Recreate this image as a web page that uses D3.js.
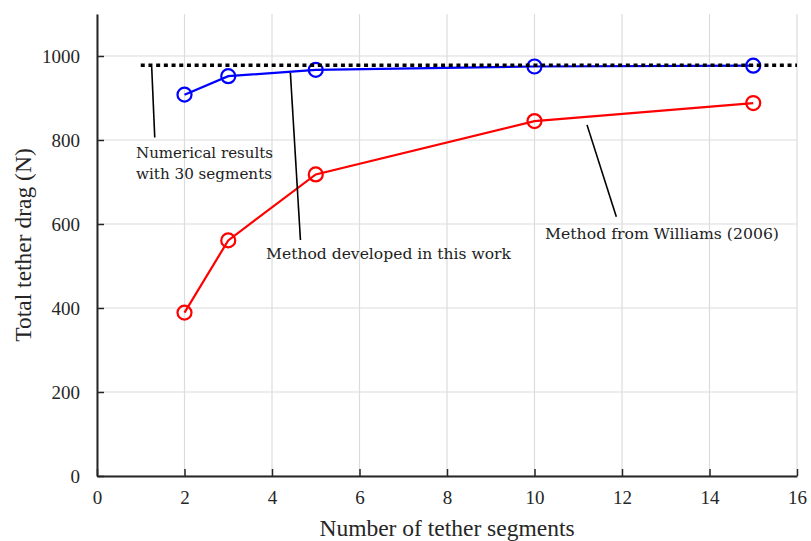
<!DOCTYPE html>
<html><head><meta charset="utf-8">
<script src="https://cdn.jsdelivr.net/npm/d3@7"></script>
<style>body{margin:0;background:#fff}svg{display:block}</style>
</head><body>
<script>
const segments = [2, 3, 5, 10, 15];
const thisWork = [908, 952, 967, 975, 977];
const williams = [389, 561, 718, 845, 888];
const numericalRef = 978;
const numericalRange = [1, 16];
const xTicks = [0, 2, 4, 6, 8, 10, 12, 14, 16];
const yTicks = [0, 200, 400, 600, 800, 1000];
const annotations = [
  {lines: ["Numerical results", "with 30 segments"], widths: [137, 136], from: [1.25, 974], to: [1.32, 806], text: [136, 158], lh: 21},
  {lines: ["Method developed in this work"], widths: [245], from: [4.42, 960], to: [4.65, 562], text: [266, 259], lh: 21},
  {lines: ["Method from Williams (2006)"], widths: [234], from: [11.2, 836], to: [11.87, 617], text: [545, 239], lh: 21}
];

const W = 811, H = 541;
const svg = d3.select("body").append("svg").attr("width", W).attr("height", H);
const x = d3.scaleLinear().domain([0, 16]).range([97, 797]);
const y = d3.scaleLinear().domain([0, 1100]).range([476, 14]);
const serif = "'Liberation Serif', 'Times New Roman', Times, serif";

// grid
svg.append("g").selectAll("line").data(xTicks).join("line")
  .attr("x1", d => x(d)).attr("x2", d => x(d)).attr("y1", y(0)).attr("y2", y(1100))
  .attr("stroke", "#dcdcdc").attr("stroke-width", 1.2);
svg.append("g").selectAll("line").data(yTicks).join("line")
  .attr("x1", x(0)).attr("x2", x(16)).attr("y1", d => y(d)).attr("y2", d => y(d))
  .attr("stroke", "#dcdcdc").attr("stroke-width", 1.2);

// axes
const xAxis = svg.append("g").attr("transform", `translate(0,${y(0)})`)
  .call(d3.axisBottom(x).tickValues(xTicks).tickSizeInner(-7).tickSizeOuter(0).tickPadding(15).tickFormat(d3.format("d")));
const yAxis = svg.append("g").attr("transform", `translate(${x(0)},0)`)
  .call(d3.axisLeft(y).tickValues(yTicks).tickSizeInner(-7).tickSizeOuter(0).tickPadding(17).tickFormat(d3.format("d")));
[xAxis, yAxis].forEach(g => {
  g.select(".domain").attr("stroke", "#262626").attr("stroke-width", 2);
  g.selectAll(".tick line").attr("stroke", "#262626").attr("stroke-width", 1.5);
  g.selectAll("text").attr("font-family", serif).style("font-family", serif)
    .attr("font-size", 19).attr("fill", "#262626");
});
yAxis.selectAll("text").attr("dy", "0.35em");

// axis labels
svg.append("text").attr("x", x(8)).attr("y", 536).attr("text-anchor", "middle")
  .style("font-family", serif).attr("font-size", 23.5).attr("fill", "#262626")
  .text("Number of tether segments");
svg.append("text").attr("transform", `translate(31,${(y(0) + y(1100)) / 2}) rotate(-90)`)
  .attr("text-anchor", "middle")
  .style("font-family", serif).attr("font-size", 23.5).attr("fill", "#262626")
  .text("Total tether drag (N)");

// series
const line = d3.line().x(d => x(d[0])).y(d => y(d[1]));
function series(vals, color) {
  const pts = segments.map((s, i) => [s, vals[i]]);
  svg.append("path").datum(pts).attr("d", line).attr("fill", "none")
    .attr("stroke", color).attr("stroke-width", 2.2);
  svg.append("g").selectAll("circle").data(pts).join("circle")
    .attr("cx", d => x(d[0])).attr("cy", d => y(d[1])).attr("r", 7)
    .attr("fill", "none").attr("stroke", color).attr("stroke-width", 2.2);
}
series(williams, "#ff0000");
series(thisWork, "#0000ff");

// numerical reference dotted line
svg.append("line").attr("x1", x(numericalRange[0])).attr("x2", x(numericalRange[1]))
  .attr("y1", y(numericalRef)).attr("y2", y(numericalRef))
  .attr("stroke", "#000").attr("stroke-width", 3.5).attr("stroke-dasharray", "4,3.7");

// annotations
annotations.forEach(a => {
  svg.append("line").attr("x1", x(a.from[0])).attr("y1", y(a.from[1]))
    .attr("x2", x(a.to[0])).attr("y2", y(a.to[1]))
    .attr("stroke", "#000").attr("stroke-width", 1.6);
  a.lines.forEach((t, i) => {
    svg.append("text").attr("x", a.text[0]).attr("y", a.text[1] + i * a.lh)
      .style("font-family", "'DejaVu Serif', serif").attr("font-size", 14.5).attr("fill", "#222")
      .attr("textLength", a.widths[i]).attr("lengthAdjust", "spacingAndGlyphs")
      .text(t);
  });
});
</script>
</body></html>
